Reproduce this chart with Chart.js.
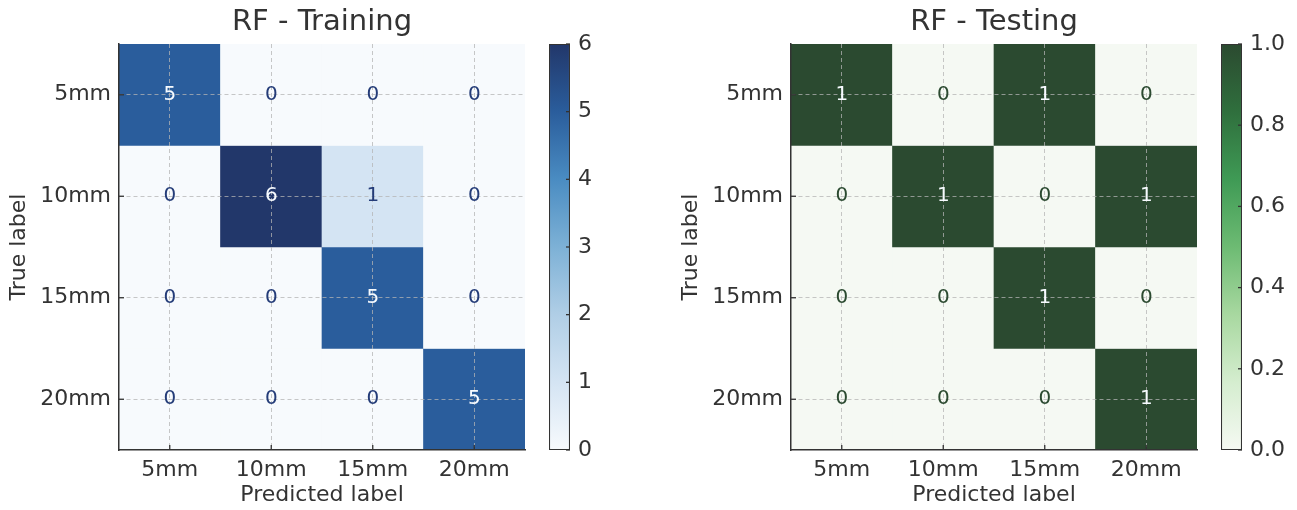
<!DOCTYPE html>
<html>
<head>
<meta charset="utf-8">
<script src="https://cdn.jsdelivr.net/npm/chart.js@4/dist/chart.umd.min.js"></script>
<style>
  body { margin: 0; background: #fff; }
  #wrap { position: relative; width: 1297px; height: 510px; }
  canvas { position: absolute; top: 0; }
</style>
</head>
<body>
<div id="wrap">
  <canvas id="train" width="540" height="510" style="left:0px"></canvas>
  <canvas id="trainBar" width="90" height="510" style="left:540px"></canvas>
  <canvas id="test" width="540" height="510" style="left:672px"></canvas>
  <canvas id="testBar" width="85" height="510" style="left:1212px"></canvas>
</div>
<script>
// data
const classLabels = ["5mm", "10mm", "15mm", "20mm"];
const trainMatrix = [
  [5, 0, 0, 0],
  [0, 6, 1, 0],
  [0, 0, 5, 0],
  [0, 0, 0, 5]
];
const testMatrix = [
  [1, 0, 1, 0],
  [0, 1, 0, 1],
  [0, 0, 1, 0],
  [0, 0, 0, 1]
];
const trainScale = [0, 6, 1];   // min, max, step
const testScale = [0, 1, 0.2];

// colormaps (low -> high)
const blues = ["#f7fafd", "#d4e4f3", "#b0cee6", "#7db1d6", "#4a8cc2", "#2a5d9c", "#22376a"];
const greens = ["#f5f9f3", "#d5edcf", "#a8d8a0", "#6dbb73", "#3f9a55", "#2f6f3d", "#2b4a30"];

Chart.defaults.font.family = "'DejaVu Sans', sans-serif";
Chart.defaults.color = "#333";

function hexToRgb(h) {
  return [parseInt(h.slice(1, 3), 16), parseInt(h.slice(3, 5), 16), parseInt(h.slice(5, 7), 16)];
}

function cmap(stops, t) {
  t = Math.max(0, Math.min(1, t));
  const pos = t * (stops.length - 1);
  const i = Math.min(Math.floor(pos), stops.length - 2);
  const f = pos - i;
  const a = hexToRgb(stops[i]), b = hexToRgb(stops[i + 1]);
  const c = a.map((v, k) => Math.round(v + (b[k] - v) * f));
  return "rgb(" + c.join(",") + ")";
}

const gridColor = "rgba(180,180,180,0.75)";

// tick marks pointing into the plot + cell numbers
const matrixExtras = {
  id: "matrixExtras",
  afterDraw(chart, args, opts) {
    const { ctx, chartArea } = chart;
    const xs = chart.scales.x, ys = chart.scales.y;
    ctx.save();
    ctx.strokeStyle = "#333";
    ctx.lineWidth = 1.3;
    xs.ticks.forEach((t, i) => {
      const x = xs.getPixelForTick(i);
      ctx.beginPath(); ctx.moveTo(x, chartArea.bottom); ctx.lineTo(x, chartArea.bottom - 5); ctx.stroke();
    });
    ys.ticks.forEach((t, i) => {
      const y = ys.getPixelForTick(i);
      ctx.beginPath(); ctx.moveTo(chartArea.left, y); ctx.lineTo(chartArea.left + 5, y); ctx.stroke();
    });
    const m = opts.matrix;
    const flat = m.flat();
    const thresh = (Math.max(...flat) + Math.min(...flat)) / 2;
    ctx.font = "20px 'DejaVu Sans'";
    ctx.textAlign = "center";
    ctx.textBaseline = "middle";
    m.forEach((row, r) => {
      row.forEach((v, c) => {
        ctx.fillStyle = v > thresh ? opts.light : opts.dark;
        ctx.fillText(String(v), xs.getPixelForValue(c), ys.getPixelForValue(r));
      });
    });
    ctx.restore();
  }
};

function makeMatrix(id, title, matrix, stops, dark) {
  const flat = matrix.flat();
  const vmin = Math.min(...flat), vmax = Math.max(...flat);
  const datasets = matrix.map((row, r) => ({
    data: row.map(() => [r - 0.5, r + 0.5]),
    backgroundColor: row.map(v => cmap(stops, (v - vmin) / (vmax - vmin))),
    borderWidth: 0,
    barPercentage: 1,
    categoryPercentage: 1,
    grouped: false
  }));
  return new Chart(document.getElementById(id), {
    type: "bar",
    data: { labels: classLabels, datasets: datasets },
    plugins: [matrixExtras],
    options: {
      responsive: false,
      animation: false,
      layout: { padding: { right: 15 } },
      plugins: {
        legend: { display: false },
        tooltip: { enabled: false },
        title: {
          display: true, text: title, fullSize: false, color: "#333",
          font: { size: 29, weight: "normal" }, padding: { top: 4.6, bottom: 4.6 }
        },
        matrixExtras: { matrix: matrix, dark: dark, light: "#f7fbff" }
      },
      scales: {
        x: {
          offset: true,
          grid: { offset: false, color: gridColor, drawTicks: false, z: 1 },
          border: { color: "#333", width: 1.5, dash: [4, 3], z: 1 },
          ticks: { font: { size: 22 }, color: "#333", padding: 7 },
          title: { display: true, text: "Predicted label", color: "#333", font: { size: 22 }, padding: { top: 0, bottom: 1.8 } },
          afterFit: s => { s.height = 60; }
        },
        y: {
          type: "linear", reverse: true, min: -0.5, max: 3.5,
          afterBuildTicks: s => { s.ticks = classLabels.map((_, i) => ({ value: i })); },
          grid: { color: gridColor, drawTicks: false, z: 1 },
          border: { color: "#333", width: 1.5, dash: [4, 3], z: 1 },
          ticks: { font: { size: 22 }, color: "#333", padding: 8, callback: v => classLabels[v] },
          title: { display: true, text: "True label", color: "#333", font: { size: 22 }, padding: { top: 6.5, bottom: 0 } },
          afterFit: s => { s.width = 119; }
        }
      }
    }
  });
}

const barTicks = {
  id: "barTicks",
  afterDraw(chart) {
    const { ctx, chartArea } = chart;
    const ys = chart.scales.y;
    ctx.save();
    ctx.strokeStyle = "#333";
    ctx.lineWidth = 1.3;
    ys.ticks.forEach((t, i) => {
      const y = ys.getPixelForTick(i);
      ctx.beginPath(); ctx.moveTo(chartArea.right, y); ctx.lineTo(chartArea.right - 4, y); ctx.stroke();
    });
    ctx.restore();
  }
};

function makeColorbar(id, range, stops, decimals, axisWidth) {
  const [min, max, step] = range;
  return new Chart(document.getElementById(id), {
    type: "bar",
    data: {
      labels: [""],
      datasets: [{
        data: [[min, max]],
        backgroundColor: ctx => {
          const area = ctx.chart.chartArea;
          if (!area) return stops[0];
          const g = ctx.chart.ctx.createLinearGradient(0, area.bottom, 0, area.top);
          stops.forEach((c, i) => g.addColorStop(i / (stops.length - 1), c));
          return g;
        },
        borderColor: "#333",
        borderWidth: 1.4,
        borderSkipped: false,
        barPercentage: 1,
        categoryPercentage: 1
      }]
    },
    plugins: [barTicks],
    options: {
      responsive: false,
      animation: false,
      layout: { padding: { left: 9, top: 44, bottom: 60 } },
      plugins: { legend: { display: false }, tooltip: { enabled: false } },
      scales: {
        x: { display: false },
        y: {
          position: "right", min: min, max: max,
          grid: { display: false, drawTicks: false },
          border: { display: false },
          ticks: { stepSize: step, font: { size: 22 }, color: "#333", padding: 8, callback: v => Number(v).toFixed(decimals) },
          afterFit: s => { s.width = axisWidth; }
        }
      }
    }
  });
}

makeMatrix("train", "RF - Training", trainMatrix, blues, "#243c78");
makeColorbar("trainBar", trainScale, blues, 0, 60);
makeMatrix("test", "RF - Testing", testMatrix, greens, "#2b4a30");
makeColorbar("testBar", testScale, greens, 1, 55);
</script>
</body>
</html>
